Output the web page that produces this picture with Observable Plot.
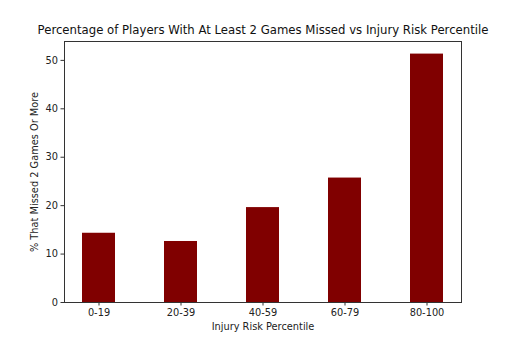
<!DOCTYPE html>
<html>
<head>
<meta charset="utf-8">
<script src="https://cdn.jsdelivr.net/npm/d3@7"></script>
<script src="https://cdn.jsdelivr.net/npm/@observablehq/plot@0.6"></script>
<style>
  html, body { margin: 0; padding: 0; background: #fff; }
  #chart { width: 512px; height: 340px; }
</style>
</head>
<body>
<div id="chart"></div>
<script>
const categories = ["0-19", "20-39", "40-59", "60-79", "80-100"];
const values = [14.3, 12.6, 19.6, 25.7, 51.3];
const yTicks = [0, 10, 20, 30, 40, 50];
const title = "Percentage of Players With At Least 2 Games Missed vs Injury Risk Percentile";
const xLabel = "Injury Risk Percentile";
const yLabel = "% That Missed 2 Games Or More";

const data = categories.map((c, i) => ({ category: c, value: values[i] }));

const chart = Plot.plot({
  width: 512,
  height: 340,
  marginTop: 41,
  marginBottom: 38,
  marginLeft: 64,
  marginRight: 51,
  style: { fontFamily: "DejaVu Sans", fontSize: "9.8px", color: "#222", background: "#fff" },
  x: { type: "band", domain: categories, paddingInner: 0.6, paddingOuter: 0.22, label: null },
  y: { domain: [0, 53.9], label: null },
  marks: [
    Plot.barY(data, { x: "category", y: "value", fill: "#800000" }),
    Plot.frame({ stroke: "#333", strokeWidth: 1 }),
    Plot.axisX({ tickSize: 3.5, tickPadding: 3, stroke: "#333", label: null }),
    Plot.axisY({ ticks: yTicks, tickSize: 3.5, tickPadding: 3, stroke: "#333", label: null }),
    Plot.text([title], { frameAnchor: "top", lineAnchor: "middle", dy: -11, fontSize: 11.7, fill: "#111" }),
    Plot.text([xLabel], { frameAnchor: "bottom", lineAnchor: "middle", dy: 24.5, fontSize: 9.8, fill: "#222" }),
    Plot.text([yLabel], { frameAnchor: "left", textAnchor: "middle", lineAnchor: "middle", dx: -30, rotate: -90, fontSize: 9.8, fill: "#222" })
  ]
});
document.getElementById("chart").appendChild(chart);
</script>
</body>
</html>
